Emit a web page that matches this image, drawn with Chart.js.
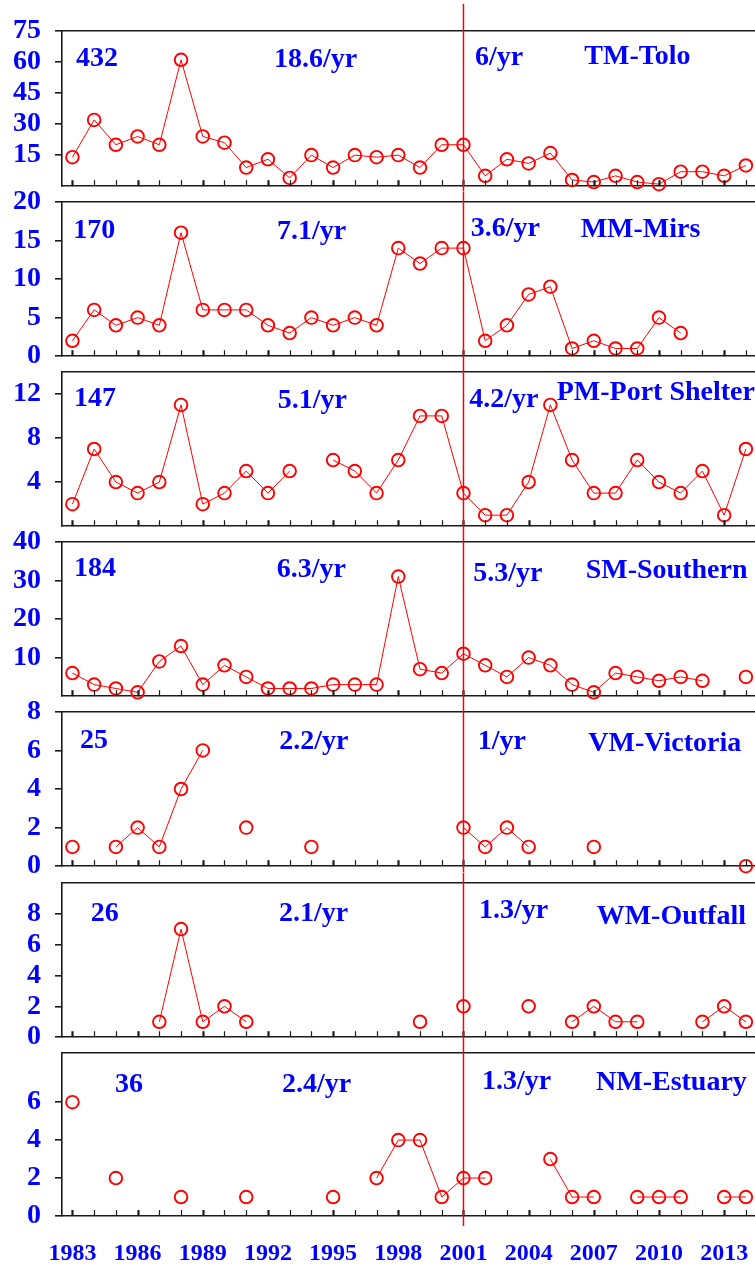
<!DOCTYPE html>
<html><head><meta charset="utf-8">
<script src="https://cdn.jsdelivr.net/npm/chart.js@4.4.0/dist/chart.umd.min.js"></script>
<style>
html,body{margin:0;padding:0;background:#fff;}
body{width:755px;height:1266px;overflow:hidden;position:relative;}
canvas{position:absolute;left:0;}
.ann{position:absolute;font-family:"Liberation Serif","Times New Roman",serif;font-weight:bold;color:#0000ff;font-size:28px;line-height:28px;white-space:nowrap;}
</style></head><body>
<script>
// ---------------- DATA ----------------
const years = [1983,1984,1985,1986,1987,1988,1989,1990,1991,1992,1993,1994,1995,1996,1997,1998,1999,2000,2001,2002,2003,2004,2005,2006,2007,2008,2009,2010,2011,2012,2013,2014];
const toloValues = [14,32,20,24,20,61,24,21,9,13,4,15,9,15,14,15,9,20,20,5,13,11,16,3,2,5,2,1,7,7,5,10];
const mirsValues = [2,6,4,5,4,16,6,6,6,4,3,5,4,5,4,14,12,14,14,2,4,8,9,1,2,1,1,5,3,null,null,null];
const portValues = [2,7,4,3,4,11,2,3,5,3,5,null,6,5,3,6,10,10,3,1,1,4,11,6,3,3,6,4,3,5,1,7];
const southValues = [6,3,2,1,9,13,3,8,5,2,2,2,3,3,3,31,7,6,11,8,5,10,8,3,1,6,5,4,5,4,null,5];
const victoriaValues = [1,null,1,2,1,4,6,null,2,null,null,1,null,null,null,null,null,null,2,1,2,1,null,null,1,null,null,null,null,null,null,0];
const outfallValues = [null,null,null,null,1,7,1,2,1,null,null,null,null,null,null,null,1,null,2,null,null,2,null,1,2,1,1,null,null,1,2,1];
const estuaryValues = [6,null,2,null,null,1,null,null,1,null,null,null,1,null,2,4,4,1,2,2,null,null,3,1,1,null,1,1,1,null,1,1];

const xTickLabels = ['1983','1986','1989','1992','1995','1998','2001','2004','2007','2010','2013'];
const toloTicks = [15,30,45,60,75];
const mirsTicks = [0,5,10,15,20];
const portTicks = [4,8,12];
const southTicks = [10,20,30,40];
const victoriaTicks = [0,2,4,6,8];
const outfallTicks = [0,2,4,6,8];
const estuaryTicks = [0,2,4,6];

const panelNames = ['TM-Tolo','MM-Mirs','PM-Port Shelter','SM-Southern','VM-Victoria','WM-Outfall','NM-Estuary'];
const panelTotals = ['432','170','147','184','25','26','36'];
const ratesBefore = ['18.6/yr','7.1/yr','5.1/yr','6.3/yr','2.2/yr','2.1/yr','2.4/yr'];
const ratesAfter = ['6/yr','3.6/yr','4.2/yr','5.3/yr','1/yr','1.3/yr','1.3/yr'];
const splitYear = 2001;

// ---------------- LAYOUT ----------------
const W = 755, H = 1266;
const X_MIN = 1982.52, X_MAX = 2014.42;
const AXIS_W = 62, PAD_TOP = 30;
const panelTops    = [30.2, 200.7, 370.7, 541, 711, 881.5, 1052];
const panelBottoms = [191.7, 361.7, 531.3, 702, 872.3, 1042.7, 1216];
const yMaxes = [75, 20, 14, 40, 8, 10, 8.6];
const series = [toloValues, mirsValues, portValues, southValues, victoriaValues, outfallValues, estuaryValues];
const ticksList = [toloTicks, mirsTicks, portTicks, southTicks, victoriaTicks, outfallTicks, estuaryTicks];
const vlineTop = 4, vlineBottom = 1226;
// annotation positions: [left, baseline] for total, rateBefore, rateAfter, name
const annPos = [
  [[76,66.7],[274,67.5],[475,65.7],[584.3,64.3]],
  [[73.3,238.3],[277,239.3],[470.7,236.7],[580.7,237.7]],
  [[74,406.7],[277.7,408.3],[469.3,407.7],[556.7,400.7]],
  [[74,576.7],[276.7,577.3],[473.3,581],[585.7,578.3]],
  [[80,748.3],[279.3,749.3],[477.7,749.3],[588.3,751]],
  [[90.7,921],[279,921.7],[479,918.3],[596.7,924.3]],
  [[115,1092],[282,1092],[482,1089],[596,1090]]
];

const FONT = "'Liberation Serif','Times New Roman',serif";
const BLUE = '#0000ff', RED = '#ff0000', AXIS = '#1a1a1a';
Chart.defaults.animation = false;

const panelPlugin = {
  id: 'panelDecor',
  afterDraw(chart, args, opts) {
    const ctx = chart.ctx, xs = chart.scales.x, area = chart.chartArea;
    ctx.save();
    ctx.strokeStyle = AXIS;
    xs.ticks.forEach(t => {
      const px = Math.round(xs.getPixelForValue(t.value)) + 0.5;
      const major = xTickLabels.includes(String(t.value));
      ctx.lineWidth = major ? 2.2 : 1.2;
      ctx.beginPath(); ctx.moveTo(px, area.bottom); ctx.lineTo(px, area.bottom - 6); ctx.stroke();
    });
    const vx = xs.getPixelForValue(splitYear);
    ctx.strokeStyle = RED; ctx.lineWidth = 1.5;
    ctx.beginPath(); ctx.moveTo(vx, opts.from); ctx.lineTo(vx, opts.to); ctx.stroke();
    ctx.restore();
  }
};

series.forEach((vals, i) => {
  const isLast = i === series.length - 1;
  const bottomExtra = isLast ? H - panelBottoms[i] : 25;
  const canvasTop = panelTops[i] - PAD_TOP;
  const ch = PAD_TOP + (panelBottoms[i] - panelTops[i]) + bottomExtra;
  const cv = document.createElement('canvas');
  cv.width = W; cv.height = Math.round(ch);
  cv.style.top = canvasTop + 'px';
  cv.style.width = W + 'px'; cv.style.height = Math.round(ch) + 'px';
  document.body.appendChild(cv);
  const fromY = (i === 0 ? vlineTop : panelBottoms[i - 1]) - canvasTop;
  const toY = (isLast ? vlineBottom : panelBottoms[i]) - canvasTop;
  const tickVals = ticksList[i];
  new Chart(cv, {
    type: 'line',
    data: {
      datasets: [{
        data: years.map((y, k) => ({ x: y, y: vals[k] })),
        borderColor: RED, borderWidth: 1, backgroundColor: 'transparent',
        pointRadius: 6.3, pointBorderWidth: 1.9, pointBorderColor: RED,
        pointBackgroundColor: 'rgba(0,0,0,0)', pointHoverRadius: 6.3,
        spanGaps: false, tension: 0, clip: false
      }]
    },
    options: {
      responsive: false, devicePixelRatio: 1,
      layout: { autoPadding: false, padding: { top: PAD_TOP, left: 0, right: 0, bottom: 0 } },
      plugins: { legend: { display: false }, tooltip: { enabled: false }, panelDecor: { from: fromY, to: toY } },
      scales: {
        x: {
          type: 'linear', position: 'bottom', min: X_MIN, max: X_MAX,
          afterBuildTicks: s => { s.ticks = years.map(v => ({ value: v })); },
          afterFit: s => { s.height = bottomExtra; s.paddingLeft = 0; s.paddingRight = 0; },
          grid: { display: false, drawTicks: false },
          border: { display: true, color: AXIS, width: 1.6 },
          ticks: {
            display: isLast, autoSkip: false, maxRotation: 0, minRotation: 0, padding: 23,
            color: BLUE, font: { family: FONT, size: 24, weight: 'bold' },
            callback: v => xTickLabels.includes(String(v)) ? String(v) : ''
          }
        },
        xTop: {
          type: 'linear', position: 'top', min: X_MIN, max: X_MAX,
          afterFit: s => { s.height = 0; s.paddingLeft = 0; s.paddingRight = 0; },
          grid: { display: false, drawTicks: false },
          border: { display: true, color: AXIS, width: 1.6 },
          ticks: { display: false }
        },
        y: {
          type: 'linear', position: 'left', min: 0, max: yMaxes[i],
          afterBuildTicks: s => { s.ticks = tickVals.map(v => ({ value: v })); },
          afterFit: s => { s.width = AXIS_W; },
          grid: { display: true, drawOnChartArea: false, drawTicks: true, tickLength: 7, color: AXIS, lineWidth: 1.6 },
          border: { display: true, color: AXIS, width: 1.6 },
          ticks: { padding: 14, color: BLUE, font: { family: FONT, size: 28, weight: 'bold' }, callback: v => String(v) }
        }
      }
    },
    plugins: [panelPlugin]
  });
});

const texts = [panelTotals, ratesBefore, ratesAfter, panelNames];
annPos.forEach((row, i) => {
  row.forEach((p, j) => {
    const d = document.createElement('div');
    d.className = 'ann';
    d.textContent = texts[j][i];
    d.style.left = p[0] + 'px';
    d.style.top = (p[1] - 23.4) + 'px';
    document.body.appendChild(d);
  });
});
</script>
</body></html>
